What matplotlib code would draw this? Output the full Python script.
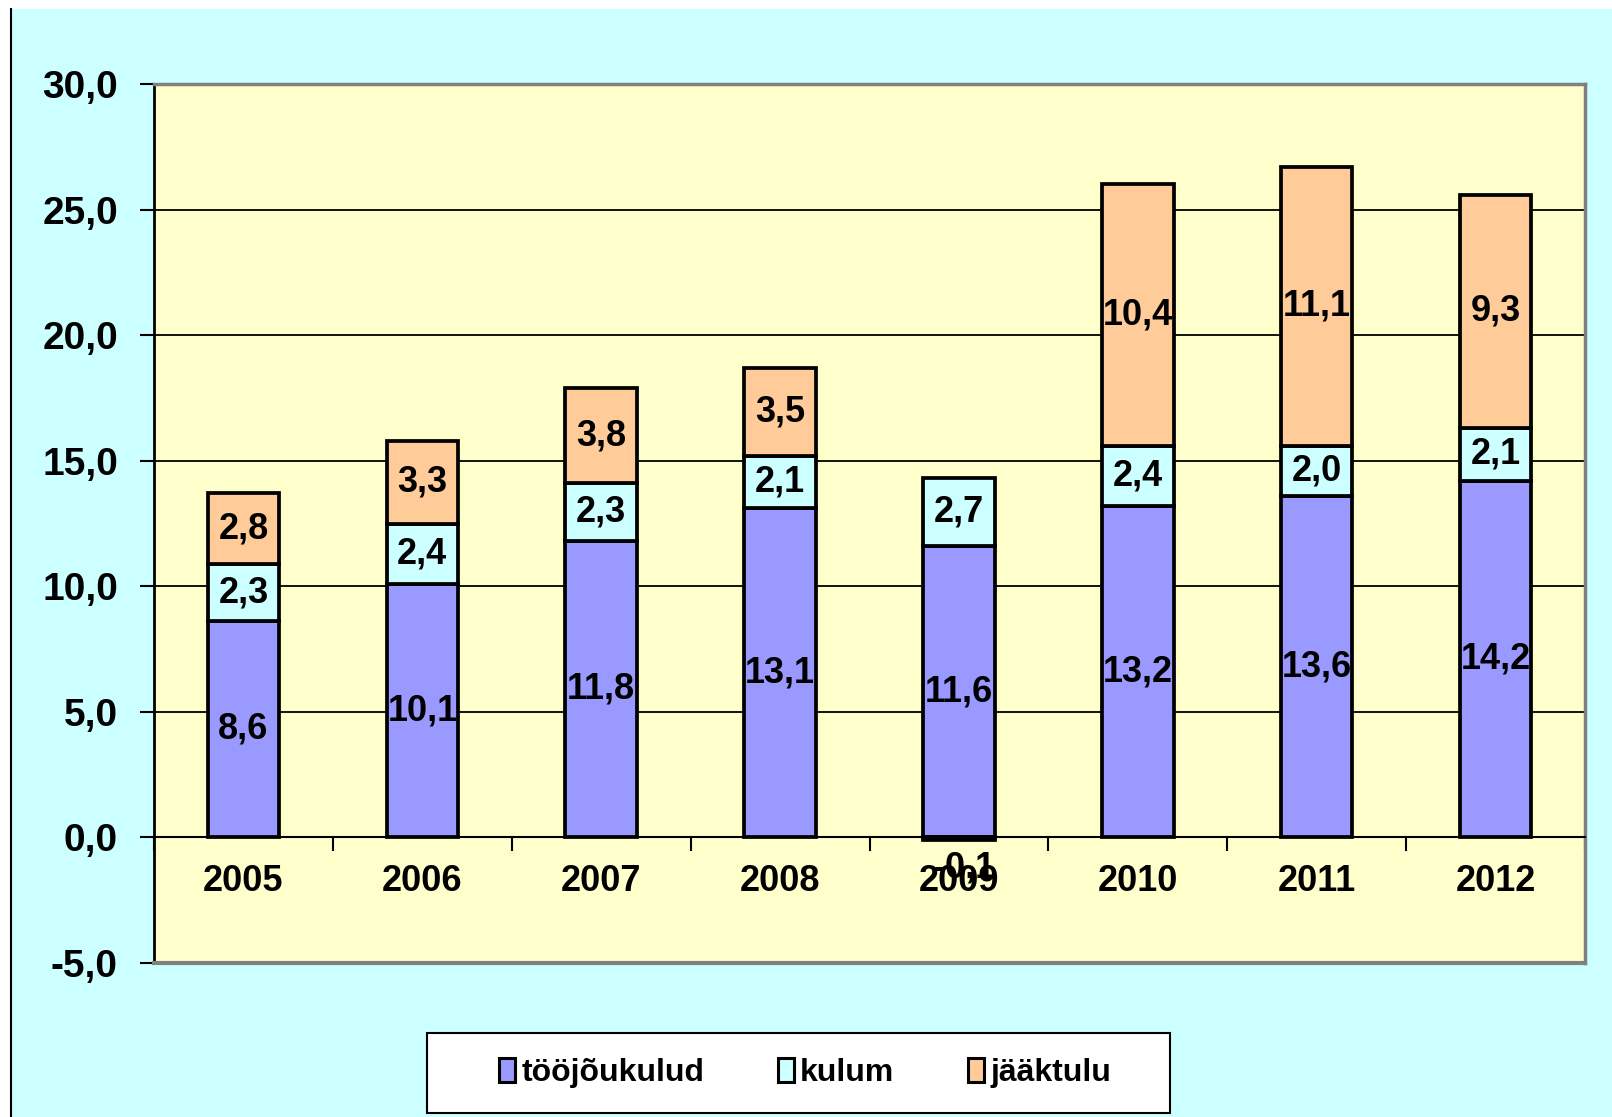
import matplotlib.pyplot as plt
from matplotlib.patches import Rectangle, Patch
from matplotlib.lines import Line2D
import numpy as np

plt.rcParams['font.family'] = ['Liberation Sans', 'DejaVu Sans']
plt.rcParams['font.weight'] = 'bold'

years = ['2005', '2006', '2007', '2008', '2009', '2010', '2011', '2012']
toojoukulud = [8.6, 10.1, 11.8, 13.1, 11.6, 13.2, 13.6, 14.2]
kulum = [2.3, 2.4, 2.3, 2.1, 2.7, 2.4, 2.0, 2.1]
jaaktulu = [2.8, 3.3, 3.8, 3.5, -0.1, 10.4, 11.1, 9.3]
names = ['tööjõukulud', 'kulum', 'jääktulu']
colors = ['#9999FF', '#CCFFFF', '#FFCC99']
yticks = [-5, 0, 5, 10, 15, 20, 25, 30]


def fmt(v):
    return ('%.1f' % v).replace('.', ',')


fig = plt.figure(figsize=(16.12, 11.17), dpi=100, facecolor='white')
# chart area background with left border
fig.patches.append(Rectangle((11 / 1612, 0), 1 - 11 / 1612, 1 - 9 / 1117,
                             transform=fig.transFigure, facecolor='#CCFFFF',
                             edgecolor='none', zorder=-10))
fig.lines.append(Line2D([11 / 1612, 11 / 1612], [0, 1 - 9 / 1117],
                        transform=fig.transFigure, color='black', lw=1.5))

ax = fig.add_axes([154 / 1612, 1 - 963 / 1117, (1585 - 154) / 1612, (963 - 84) / 1117])
ax.set_facecolor('#FFFFCC')

x = np.arange(len(years))
w = 0.4
pos_base = np.zeros(len(years))
neg_base = np.zeros(len(years))
for vals, name, col in zip([toojoukulud, kulum, jaaktulu], names, colors):
    vals = np.array(vals)
    base = np.where(vals >= 0, pos_base, neg_base)
    ax.bar(x, vals, w, bottom=base, color=col, edgecolor='black', lw=2.7,
           label=name, zorder=3)
    for xi, b, v in zip(x, base, vals):
        if v >= 0:
            ax.text(xi, b + v / 2, fmt(v), ha='center', va='center',
                    fontsize=26, zorder=4)
        else:
            ax.annotate(fmt(v), (xi, b + v / 2), xytext=(4, -21),
                        textcoords='offset points', ha='center', va='center',
                        fontsize=26, zorder=4)
    pos_base = pos_base + np.where(vals >= 0, vals, 0)
    neg_base = neg_base + np.where(vals < 0, vals, 0)

ax.set_xlim(-0.5, len(years) - 0.5)
ax.set_ylim(-5, 30)
ax.set_yticks(yticks)
ax.set_yticklabels([fmt(v) for v in yticks], fontsize=28)
ax.yaxis.grid(True, color='black', lw=1.3, zorder=1)
ax.set_axisbelow(True)
ax.tick_params(axis='y', direction='out', length=10, width=1.5, pad=16)

ax.spines['bottom'].set_position(('data', 0))
ax.spines['bottom'].set_color('black')
ax.spines['bottom'].set_linewidth(1.5)
ax.spines['bottom'].set_zorder(5)
ax.spines['left'].set_color('black')
ax.spines['left'].set_linewidth(2)
for s in ['top', 'right']:
    ax.spines[s].set_color('#808080')
    ax.spines[s].set_linewidth(2.5)
ax.axhline(-5, color='#808080', lw=3, clip_on=False, zorder=5)

ax.set_xticks(x)
ax.set_xticklabels(years, fontsize=26)
ax.set_xticks(np.arange(-0.5, len(years)), minor=True)
ax.tick_params(axis='x', which='major', length=0, pad=19)
ax.tick_params(axis='x', which='minor', direction='out', length=10, width=1.5)

# legend
fig.patches.append(Rectangle((427 / 1612, 1 - 1113 / 1117), (1170 - 427) / 1612,
                             (1113 - 1033) / 1117, transform=fig.transFigure,
                             facecolor='white', edgecolor='black', lw=1.5, zorder=1))
handles = [Patch(facecolor=c, edgecolor='black', lw=2.2) for c in colors]
leg = fig.legend(handles, names, loc='center', bbox_to_anchor=(805 / 1612, 1 - 1073 / 1117),
                 ncol=3, frameon=False, fontsize=23, handlelength=0.5, handleheight=0.8,
                 handletextpad=0.2, columnspacing=2.3)

fig.savefig('out.png', dpi=100, facecolor=fig.get_facecolor())
